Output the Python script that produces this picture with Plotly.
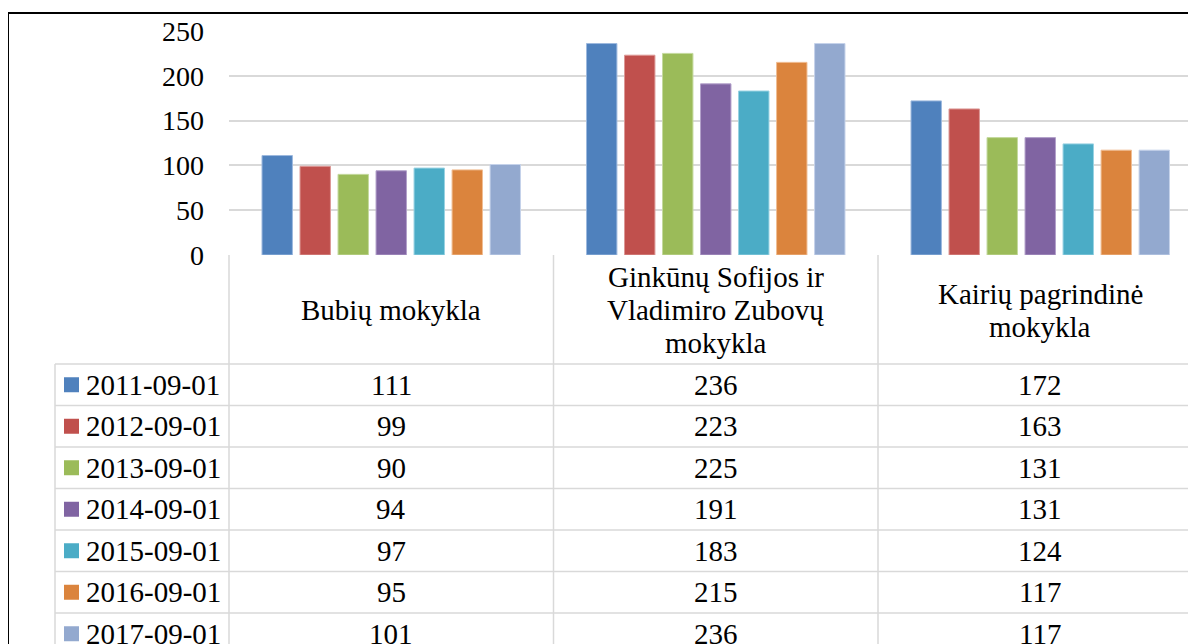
import plotly.graph_objects as go

# ---- data ----
categories = ["Bubių mokykla", "Ginkūnų Sofijos ir Vladimiro Zubovų mokykla", "Kairių pagrindinė mokykla"]
category_lines = [["Bubių mokykla"],
                  ["Ginkūnų Sofijos ir", "Vladimiro Zubovų", "mokykla"],
                  ["Kairių pagrindinė", "mokykla"]]
series_names = ["2011-09-01", "2012-09-01", "2013-09-01", "2014-09-01",
                "2015-09-01", "2016-09-01", "2017-09-01"]
v2011 = [111, 236, 172]
v2012 = [99, 223, 163]
v2013 = [90, 225, 131]
v2014 = [94, 191, 131]
v2015 = [97, 183, 124]
v2016 = [95, 215, 117]
v2017 = [101, 236, 117]
series_values = [v2011, v2012, v2013, v2014, v2015, v2016, v2017]
y_ticks = [0, 50, 100, 150, 200, 250]

colors = ["#4F81BD", "#C0504D", "#9BBB59", "#8064A2", "#4BACC6", "#DB843D", "#93A9CF"]
edge = ["#9DB9DE", "#DC9896", "#C4D99E", "#B2A0CA", "#98D2E2", "#F0BD93", "#C5D2EA"]

OFF = 8  # page body margin
W, H = 1196 - OFF, 644 - OFF
L = 229 - OFF
T = 31 - OFF
PB = 255 - OFF  # plot bottom in figure pixels
B = H - PB
plot_w = W - L
plot_h = PB - T
xr = [-0.5, -0.5 + plot_w / 324.5]
FONT = "Times New Roman, Liberation Serif, serif"
FS = 29
GRID = "#D9D9D9"

def px_x(p):
    return (p - OFF - L) / plot_w

def px_y(p):
    return (PB - (p - OFF)) / plot_h

def data_x(v):
    return (v - xr[0]) / (xr[1] - xr[0])

x_idx = list(range(len(categories)))

fig = go.Figure()
for i, (name, vals) in enumerate(zip(series_names, series_values)):
    fig.add_trace(go.Bar(
        x=x_idx, y=vals, name=name,
        marker=dict(color=colors[i], line=dict(color=edge[i], width=1)),
        showlegend=False, hoverinfo="y+name",
    ))

shapes = []
annotations = []

header_top = 255
header_bot = 364
row_h = 41.5
n_rows = len(series_names)
table_bottom = 700
line_gap = 33

for k in range(len(categories) + 1):
    xp = data_x(k - 0.5)
    shapes.append(dict(type="line", xref="paper", yref="paper",
                       x0=xp, x1=xp, y0=px_y(header_top), y1=px_y(table_bottom),
                       line=dict(color=GRID, width=1.5)))
shapes.append(dict(type="line", xref="paper", yref="paper",
                   x0=px_x(55), x1=px_x(55), y0=px_y(header_bot), y1=px_y(table_bottom),
                   line=dict(color=GRID, width=1.5)))
for r in range(n_rows + 1):
    yp = px_y(header_bot + r * row_h)
    shapes.append(dict(type="line", xref="paper", yref="paper",
                       x0=px_x(55), x1=1.05, y0=yp, y1=yp,
                       line=dict(color=GRID, width=1.5)))

header_mid = 310
for k, lines in enumerate(category_lines):
    n = len(lines)
    for j, txt in enumerate(lines):
        cy = header_mid + (j - (n - 1) / 2) * line_gap
        annotations.append(dict(x=k, xref="x", y=px_y(cy), yref="paper",
                                text=txt, showarrow=False, xanchor="center", yanchor="middle",
                                font=dict(family=FONT, size=FS, color="black")))

for r, (name, vals) in enumerate(zip(series_names, series_values)):
    cy = header_bot + (r + 0.5) * row_h
    shapes.append(dict(type="rect", xref="paper", yref="paper",
                       x0=px_x(64), x1=px_x(79), y0=px_y(cy - 7.5), y1=px_y(cy + 7.5),
                       fillcolor=colors[r], line=dict(width=0)))
    annotations.append(dict(x=px_x(84), xref="paper", y=px_y(cy), yref="paper",
                            text=name, showarrow=False, xanchor="left", yanchor="middle",
                            font=dict(family=FONT, size=FS, color="black")))
    for k, v in enumerate(vals):
        annotations.append(dict(x=k, xref="x", y=px_y(cy), yref="paper",
                                text=str(v), showarrow=False, xanchor="center", yanchor="middle",
                                font=dict(family=FONT, size=FS, color="black")))

shapes.append(dict(type="rect", xref="paper", yref="paper",
                   x0=px_x(8), x1=1.1, y0=px_y(13), y1=px_y(720),
                   line=dict(color="black", width=2), fillcolor="rgba(0,0,0,0)"))

fig.update_layout(
    width=W, height=H,
    margin=dict(l=L, r=0, t=T, b=B, pad=0),
    paper_bgcolor="white", plot_bgcolor="white",
    barmode="group", bargap=0.18, bargroupgap=0.2,
    font=dict(family=FONT, size=FS, color="black"),
    xaxis=dict(range=xr, showgrid=False, zeroline=False, showticklabels=False,
               showline=False, ticks="", fixedrange=True),
    yaxis=dict(range=[0, 250], tickvals=y_ticks, showgrid=True, gridcolor=GRID, gridwidth=1.5,
               zeroline=False, showline=False, ticks="", ticklabelstandoff=24,
               tickfont=dict(family=FONT, size=28, color="black"), fixedrange=True),
    shapes=shapes, annotations=annotations,
)

fig.write_html("out.html")
